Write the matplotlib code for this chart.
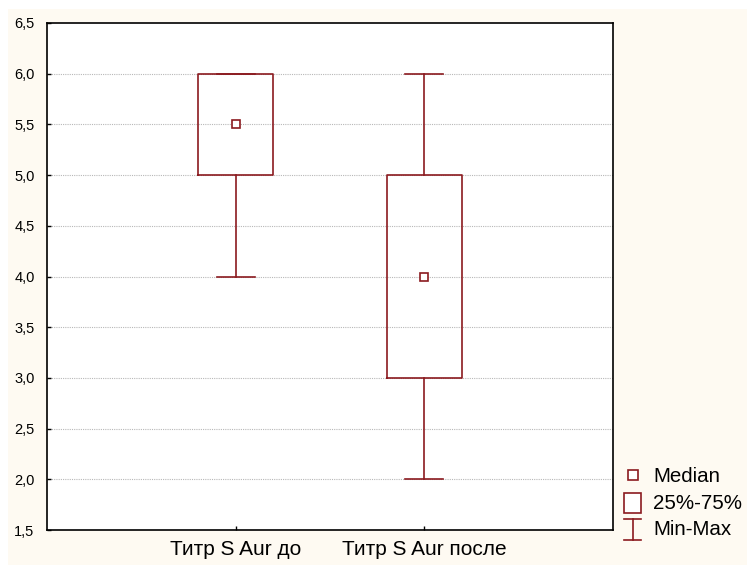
import matplotlib
matplotlib.use("Agg")
import matplotlib.pyplot as plt
from matplotlib.patches import Rectangle
from matplotlib.lines import Line2D
from matplotlib.legend_handler import HandlerBase

categories = ["Титр S Aur до", "Титр S Aur после"]
mins = [4.0, 2.0]
q1s = [5.0, 3.0]
medians = [5.5, 4.0]
q3s = [6.0, 5.0]
maxs = [6.0, 6.0]
yticks = [1.5, 2.0, 2.5, 3.0, 3.5, 4.0, 4.5, 5.0, 5.5, 6.0, 6.5]

RED = "#8B1A1F"
plt.rcParams["font.family"] = ["Liberation Sans", "DejaVu Sans"]

fig = plt.figure(figsize=(7.47, 5.65), dpi=100, facecolor="white")
fig.patches.append(Rectangle((8 / 747, 0), 739 / 747, 556 / 565, transform=fig.transFigure,
                             facecolor="#FEFAF2", edgecolor="none", zorder=-10))
ax = fig.add_axes([47 / 747, 1 - 530 / 565, 566 / 747, 507 / 565])
ax.set_facecolor("white")

stats = []
for i in range(len(categories)):
    stats.append(dict(med=medians[i], q1=q1s[i], q3=q3s[i], whislo=mins[i], whishi=maxs[i],
                      label=categories[i], fliers=[]))
pos = list(range(len(categories)))
ax.bxp(stats, positions=pos, widths=0.4, showfliers=False,
       boxprops=dict(color=RED, linewidth=1.2),
       whiskerprops=dict(color=RED, linewidth=1.2),
       capprops=dict(color=RED, linewidth=1.2),
       medianprops=dict(linewidth=0),
       capwidths=0.2, manage_ticks=False, zorder=3)
ax.plot(pos, medians, linestyle="none", marker="s", markersize=6, markerfacecolor="white",
        markeredgecolor=RED, markeredgewidth=1.2, zorder=4)

ax.set_xlim(-1, 2)
ax.set_ylim(1.5, 6.5)
ax.set_xticks(pos)
ax.set_xticklabels(categories, fontsize=15)
ax.set_yticks(yticks)
ax.set_yticklabels([f"{v:.1f}".replace(".", ",") for v in yticks], fontsize=10.5)
ax.tick_params(axis="y", direction="in", length=3, width=1, pad=9)
ax.tick_params(axis="x", direction="in", length=3, width=1, pad=7)
for y in yticks[1:-1]:
    ax.axhline(y, color="#B8B8B8", linestyle=(0, (1, 1)), linewidth=0.8, zorder=1)
for s in ax.spines.values():
    s.set_linewidth(1.2)
    s.set_color("black")


class MinMaxHandle:
    pass


class BoxHandle:
    pass


class HandlerMinMax(HandlerBase):
    def create_artists(self, legend, orig_handle, xdescent, ydescent, width, height, fontsize, trans):
        cx = width / 2 - xdescent
        top = height * 1.1
        bot = -height * 0.35
        hw = width * 0.33
        l1 = Line2D([cx, cx], [bot, top], color=RED, lw=1.2, transform=trans)
        l2 = Line2D([cx - hw, cx + hw], [top, top], color=RED, lw=1.2, transform=trans)
        l3 = Line2D([cx - hw, cx + hw], [bot, bot], color=RED, lw=1.2, transform=trans)
        return [l1, l2, l3]


class HandlerBox(HandlerBase):
    def create_artists(self, legend, orig_handle, xdescent, ydescent, width, height, fontsize, trans):
        w = width * 0.66
        h = height * 1.4
        r = Rectangle((width / 2 - w / 2 - xdescent, -height * 0.3), w, h, facecolor="white",
                      edgecolor=RED, lw=1.2, transform=trans)
        return [r]


med_handle = Line2D([], [], linestyle="none", marker="s", markersize=6.5, markerfacecolor="white",
                    markeredgecolor=RED, markeredgewidth=1.2)
fig.legend([med_handle, BoxHandle(), MinMaxHandle()], ["Median", "25%-75%", "Min-Max"],
           handler_map={BoxHandle: HandlerBox(), MinMaxHandle: HandlerMinMax()},
           loc="upper left", bbox_to_anchor=(612 / 747, 1 - 459 / 565), frameon=False,
           fontsize=14.8, handlelength=1.2, handletextpad=0.4, labelspacing=0.36,
           borderaxespad=0)

fig.savefig("out.png", dpi=100, facecolor=fig.get_facecolor())
